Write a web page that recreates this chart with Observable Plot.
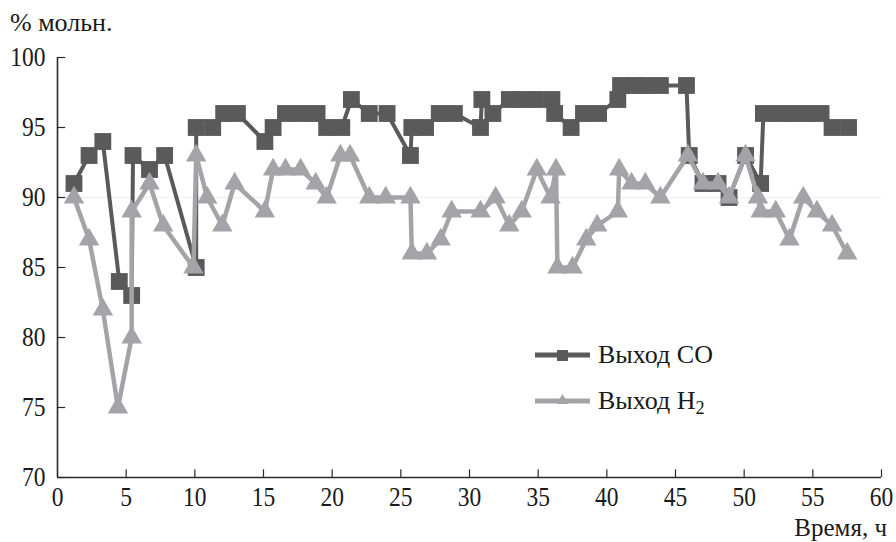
<!DOCTYPE html>
<html>
<head>
<meta charset="utf-8">
<script src="https://cdn.jsdelivr.net/npm/d3@7"></script>
<script src="https://cdn.jsdelivr.net/npm/@observablehq/plot@0.6"></script>
<style>
  body { margin: 0; background: #fff; }
  #wrap { position: relative; width: 896px; height: 542px; font-family: "Liberation Serif", "Times New Roman", serif; color: #1a1a1a; }
  .lbl { position: absolute; white-space: nowrap; line-height: 1; }
  .leg { position: absolute; display: flex; align-items: center; white-space: nowrap; line-height: 1; font-size: 26px; }
  .leg svg { margin-right: 8px; }
  sub { font-size: 0.7em; vertical-align: -0.25em; line-height: 0; }
</style>
</head>
<body>
<div id="wrap"></div>
<script>
// ---- data ----
const coTime  = [1.2, 2.3, 3.3, 4.5, 5.4, 5.5, 6.7, 7.8, 10.1, 10.1, 11.3, 12.1, 13.1, 15.1, 15.7, 16.6, 17.7, 18.9, 19.6, 20.7, 21.4, 22.7, 24.0, 25.7, 25.8, 26.8, 27.8, 28.9, 30.8, 30.9, 31.7, 32.9, 33.8, 34.8, 36.0, 36.2, 37.4, 38.3, 39.4, 40.8, 41.0, 42.0, 42.8, 43.9, 45.8, 46.0, 47.0, 48.1, 48.9, 50.1, 51.2, 51.4, 52.5, 53.5, 54.6, 55.6, 56.4, 57.6];
const coValue = [91, 93, 94, 84, 83, 93, 92, 93, 85, 95, 95, 96, 96, 94, 95, 96, 96, 96, 95, 95, 97, 96, 96, 93, 95, 95, 96, 96, 95, 97, 96, 97, 97, 97, 97, 96, 95, 96, 96, 97, 98, 98, 98, 98, 98, 93, 91, 91, 90, 93, 91, 96, 96, 96, 96, 96, 95, 95];

const h2Time  = [1.2, 2.3, 3.3, 4.4, 5.4, 5.4, 6.7, 7.7, 9.9, 10.1, 10.9, 12.0, 12.9, 15.1, 15.7, 16.6, 17.7, 18.8, 19.6, 20.6, 21.3, 22.7, 23.9, 25.7, 25.8, 26.9, 27.9, 28.7, 30.8, 31.9, 32.9, 33.8, 34.9, 35.9, 36.3, 36.4, 37.5, 38.5, 39.3, 40.8, 40.9, 41.8, 42.8, 43.9, 45.9, 47.0, 48.1, 48.9, 50.1, 51.0, 51.2, 52.3, 53.3, 54.3, 55.3, 56.4, 57.5];
const h2Value = [90, 87, 82, 75, 80, 89, 91, 88, 85, 93, 90, 88, 91, 89, 92, 92, 92, 91, 90, 93, 93, 90, 90, 90, 86, 86, 87, 89, 89, 90, 88, 89, 92, 90, 92, 85, 85, 87, 88, 89, 92, 91, 91, 90, 93, 91, 91, 90, 93, 90, 89, 89, 87, 90, 89, 88, 86];

const xTicks = [0, 5, 10, 15, 20, 25, 30, 35, 40, 45, 50, 55, 60];
const yTicks = [70, 75, 80, 85, 90, 95, 100];
const seriesNames = ["Выход CO", "Выход H<sub>2</sub>"];
const yTitle = "% мольн.";
const xTitle = "Время, ч";

// ---- build ----
const co = coTime.map((t, i) => ({t, v: coValue[i]}));
const h2 = h2Time.map((t, i) => ({t, v: h2Value[i]}));

const coColor = "#5a5a5b";
const h2Color = "#a4a4a8";
const axisColor = "#2a2a2a";

const chart = Plot.plot({
  width: 896,
  height: 542,
  marginLeft: 57,
  marginRight: 15,
  marginTop: 57,
  marginBottom: 65,
  style: {fontFamily: '"Liberation Serif", "Times New Roman", serif', fontSize: "28px", color: "#1a1a1a", background: "white", overflow: "visible"},
  x: {domain: [0, 60], label: null},
  y: {domain: [70, 100], label: null},
  marks: [
    Plot.ruleY([90], {stroke: "#f1f1f1", strokeWidth: 1.5}),
    Plot.axisX({ticks: xTicks, tickSize: 0, tickPadding: 9, label: null, fontSize: 28}),
    Plot.axisY({ticks: yTicks, tickSize: 0, tickPadding: 12, label: null, fontSize: 28}),
    Plot.ruleX(xTicks.slice(1), {x: d => d, y1: 70, y2: 70.55, stroke: axisColor, strokeWidth: 1.2}),
    Plot.ruleY(yTicks, {y: d => d, x1: 0, x2: 0.6, stroke: axisColor, strokeWidth: 1.2}),
    Plot.ruleX([0], {stroke: axisColor, strokeWidth: 1.6}),
    Plot.ruleY([70], {stroke: axisColor, strokeWidth: 1.6}),
    Plot.line(co, {x: "t", y: "v", stroke: coColor, strokeWidth: 4}),
    Plot.dot(co, {x: "t", y: "v", symbol: "square", r: 9.5, fill: coColor}),
    Plot.line(h2, {x: "t", y: "v", stroke: h2Color, strokeWidth: 4.5}),
    Plot.dot(h2, {x: "t", y: "v", symbol: "triangle", r: 7.6, fill: h2Color})
  ]
});

// condense the tick labels horizontally, like the reference's narrow serif digits
d3.select(chart).selectAll("g[aria-label$='tick label'] text").each(function() {
  const tr = this.getAttribute("transform");
  if (tr && tr.includes("translate")) {
    this.setAttribute("transform", tr + " scale(0.84,1)");
  } else {
    const x = +this.getAttribute("x") || 0, y = +this.getAttribute("y") || 0;
    this.setAttribute("x", 0); this.setAttribute("y", 0);
    this.setAttribute("transform", `translate(${x},${y}) scale(0.84,1)`);
  }
});

const wrap = document.getElementById("wrap");
wrap.appendChild(chart);

function addLabel(html, css) {
  const d = document.createElement("div");
  d.className = "lbl";
  d.innerHTML = html;
  Object.assign(d.style, css);
  wrap.appendChild(d);
}
addLabel(yTitle, {left: "10px", top: "10px", fontSize: "26px"});
addLabel(xTitle, {right: "9px", top: "515px", fontSize: "25px"});

function addLegend(name, color, symbol, top) {
  const d = document.createElement("div");
  d.className = "leg";
  d.style.left = "535px";
  d.style.top = top + "px";
  const shape = symbol === "square"
    ? `<rect x="22" y="6" width="11" height="11" fill="${color}"/>`
    : `<path d="M27.5,4 L33.5,14 L21.5,14 Z" fill="${color}"/>`;
  d.innerHTML = `<svg width="55" height="22" viewBox="0 0 55 22"><line x1="0" y1="11" x2="55" y2="11" stroke="${color}" stroke-width="5"/>${shape}</svg><span>${name}</span>`;
  wrap.appendChild(d);
}
addLegend(seriesNames[0], coColor, "square", 342);
addLegend(seriesNames[1], h2Color, "triangle", 388);
</script>
</body>
</html>
